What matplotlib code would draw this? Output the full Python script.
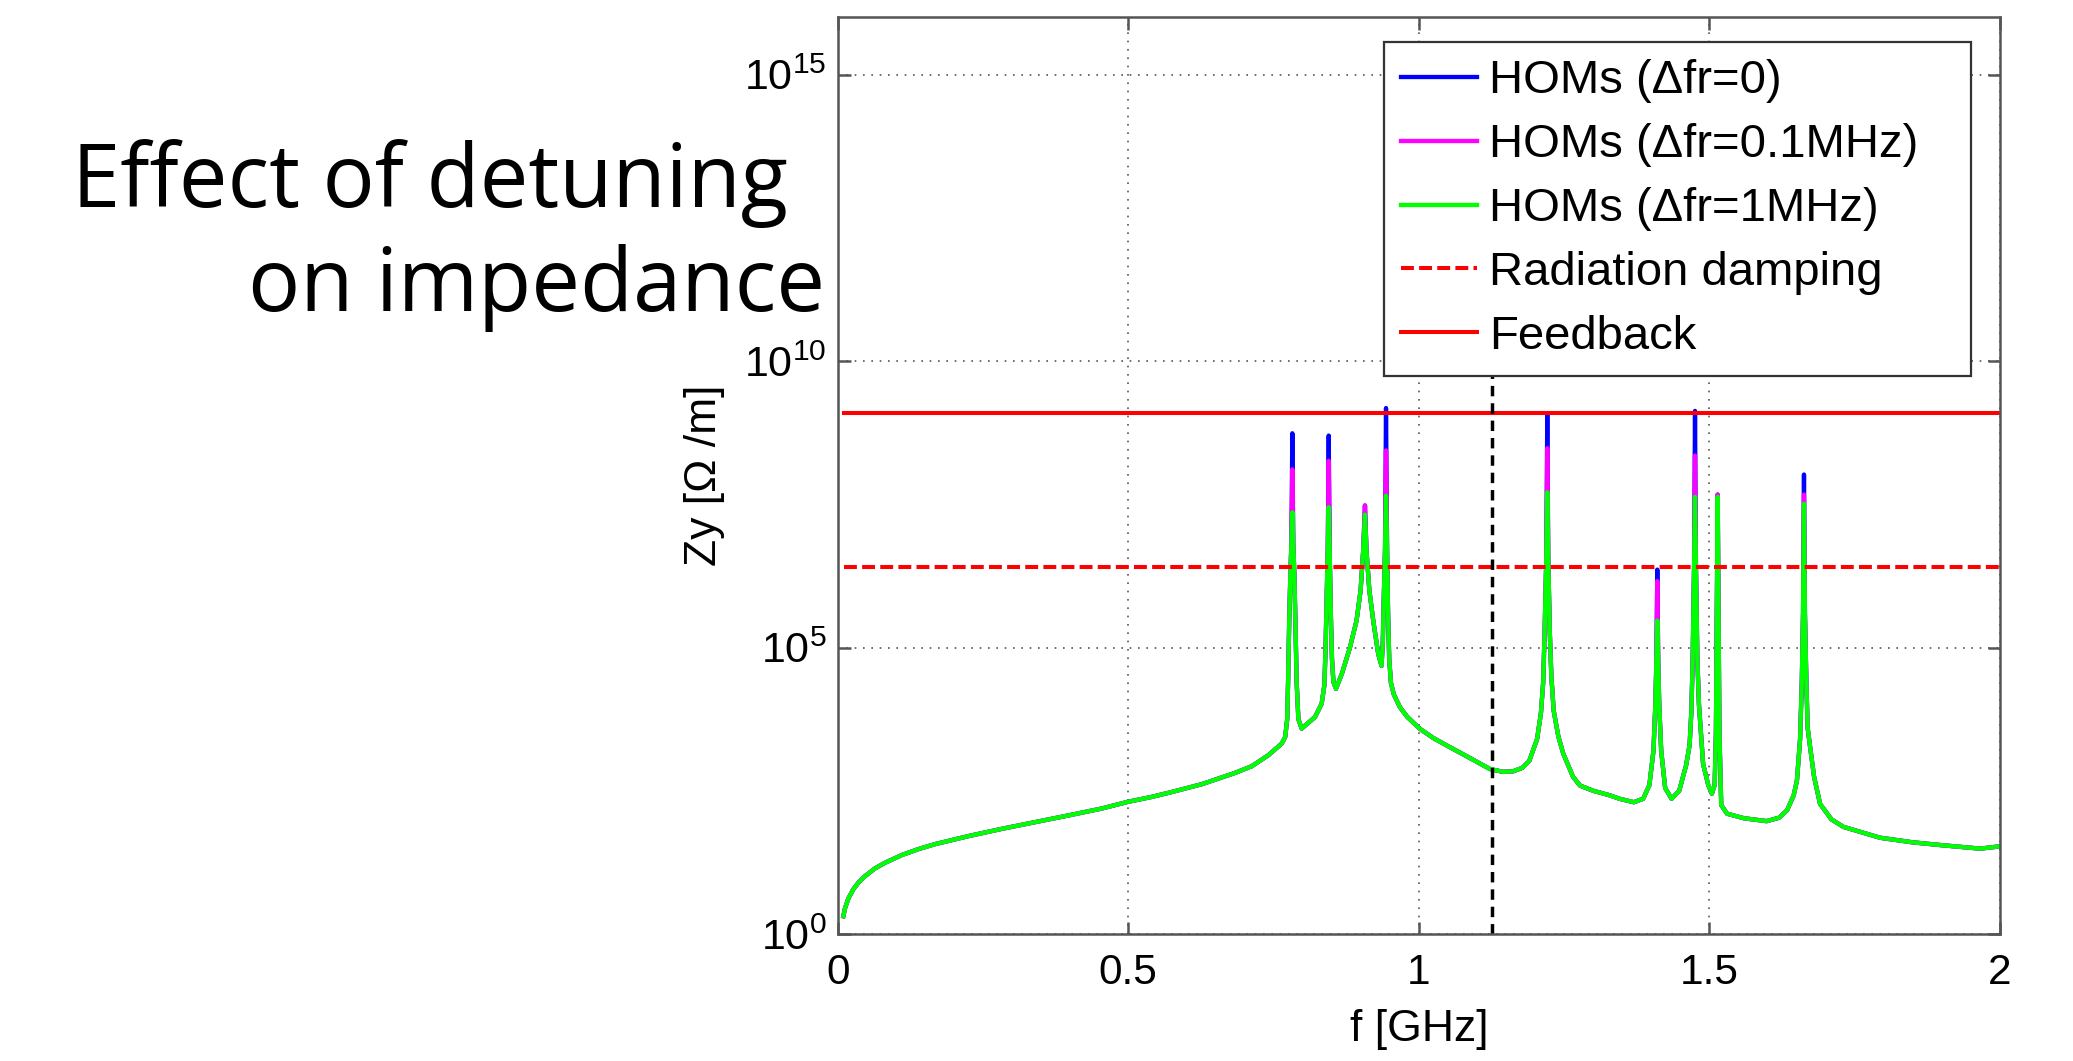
import numpy as np
import matplotlib
matplotlib.use("Agg")
import matplotlib.pyplot as plt
from matplotlib.ticker import FixedLocator, NullLocator, FixedFormatter

# ---------------- data (f in GHz, impedance as log10(Zy [Ohm/m])) ----------------
# smooth background + resonance shoulders, common to all three detuning cases
base_f = [
    0.0097, 0.0126, 0.0183, 0.0269, 0.0355, 0.0470, 0.0642, 0.0814, 0.1101, 0.1387,
    0.1674, 0.2247, 0.2822, 0.3395, 0.3968, 0.4543, 0.4990, 0.5403, 0.5689, 0.6263,
    0.6836, 0.7124, 0.7410, 0.7640, 0.7700, 0.7735,
    0.7752, 0.7770, 0.7790, 0.7807, 0.7839, 0.7857, 0.7877, 0.7897, 0.7927, 0.7984,
    0.8213, 0.8328, 0.8375,
    0.8395, 0.8413, 0.8433, 0.8465, 0.8485, 0.8505, 0.8530, 0.8574, 0.8678, 0.8814,
    0.8928, 0.8998, 0.9043, 0.9098, 0.9148, 0.9215, 0.9301, 0.9358, 0.9380, 0.9398,
    0.9418, 0.9453, 0.9470, 0.9490, 0.9520, 0.9570, 0.9674, 0.9800, 1.0019, 1.0250,
    1.0535, 1.0900, 1.1222, 1.1450, 1.1623, 1.1780, 1.1900, 1.2034, 1.2100, 1.2140,
    1.2165, 1.2194, 1.2226, 1.2252, 1.2280, 1.2320, 1.2400, 1.2484, 1.2655, 1.2775,
    1.3000, 1.3286, 1.3456, 1.3700, 1.3860, 1.3967, 1.4037, 1.4070, 1.4088,
    1.4118, 1.4136, 1.4170, 1.4238, 1.4348, 1.4480, 1.4600, 1.4659, 1.4690, 1.4712,
    1.4736, 1.4768, 1.4792, 1.4820, 1.4891, 1.4980, 1.5042, 1.5090, 1.5112, 1.5130,
    1.5154, 1.5172, 1.5203, 1.5303, 1.5594, 1.5985, 1.6200, 1.6336, 1.6450, 1.6506,
    1.6560, 1.6590, 1.6611, 1.6643, 1.6668, 1.6690, 1.6733, 1.6800, 1.6904, 1.7100,
    1.7305, 1.7937, 1.8497, 1.8998, 1.9659, 2.0000]
base_exp = [
    0.31, 0.45, 0.62, 0.78, 0.895, 1.01, 1.145, 1.243, 1.377, 1.481,
    1.568, 1.708, 1.835, 1.952, 2.069, 2.190, 2.306, 2.393, 2.463, 2.614,
    2.811, 2.928, 3.120, 3.323, 3.44, 3.75,
    4.5, 5.5, 6.3, 6.8, 6.8, 6.3, 5.4, 4.4, 3.75, 3.585,
    3.787, 4.02, 4.35,
    5.0, 5.8, 6.7, 6.7, 5.6, 4.8, 4.4, 4.28, 4.55, 5.0,
    5.47, 6.0, 6.7, 6.7, 6.0, 5.47, 4.89, 4.68, 5.1, 5.9,
    6.7, 6.7, 5.6, 4.8, 4.38, 4.18, 3.96, 3.79, 3.58, 3.42,
    3.26, 3.06, 2.88, 2.83, 2.84, 2.90, 3.02, 3.4, 3.85, 4.4,
    5.3, 6.6, 6.6, 5.3, 4.5, 3.9, 3.45, 3.15, 2.74, 2.59,
    2.50, 2.42, 2.36, 2.30, 2.36, 2.60, 3.2, 4.0, 4.8,
    4.8, 4.0, 3.2, 2.55, 2.36, 2.5, 2.95, 3.30, 3.9, 4.8,
    6.4, 6.4, 4.8, 4.0, 2.97, 2.6, 2.45, 2.6, 3.5, 6.0,
    6.0, 3.5, 2.25, 2.10, 2.02, 1.97, 2.03, 2.16, 2.42, 2.68,
    3.4, 4.4, 5.6, 5.6, 4.4, 3.6, 3.26, 2.75, 2.27, 2.00,
    1.87, 1.68, 1.60, 1.55, 1.49, 1.53]

# HOM resonance peak tops for each detuning case
peak_f = [0.7823, 0.8449, 0.9073, 0.9435, 1.2210, 1.4103, 1.4752, 1.5142, 1.6627]
peak_exp_df0 = [8.74, 8.70, 7.48, 9.18, 9.06, 6.36, 9.13, 7.67, 8.02]    # dfr = 0
peak_exp_df01 = [8.11, 8.26, 7.48, 8.44, 8.48, 6.16, 8.35, 7.67, 7.67]   # dfr = 0.1 MHz
peak_exp_df1 = [7.36, 7.45, 7.32, 7.65, 7.71, 5.47, 7.63, 7.63, 7.51]    # dfr = 1 MHz

radiation_damping = 2.5e6
feedback = 1.25e9
line_f_range = [0.01, 2.0]
marker_f = 1.1254
marker_z_range = [1.0, 5.6e9]

labels = ["HOMs (\u0394fr=0)", "HOMs (\u0394fr=0.1MHz)", "HOMs (\u0394fr=1MHz)",
          "Radiation damping", "Feedback"]
x_ticks = [0, 0.5, 1, 1.5, 2]
x_ticklabels = ["0", "0.5", "1", "1.5", "2"]
y_ticks = [1e0, 1e5, 1e10, 1e15]
y_ticklabels = [r"$\mathregular{10^{0}}$", r"$\mathregular{10^{5}}$",
                r"$\mathregular{10^{10}}$", r"$\mathregular{10^{15}}$"]

assert len(base_f) == len(base_exp)


def series(peak_exp):
    f = np.array(base_f + peak_f)
    z = 10.0 ** np.array(base_exp + peak_exp)
    order = np.argsort(f, kind="stable")
    return f[order], z[order]


# ---------------- style ----------------
plt.rcParams["font.family"] = ["Liberation Sans", "DejaVu Sans"]
plt.rcParams["mathtext.fontset"] = "custom"
plt.rcParams["mathtext.rm"] = "Liberation Sans"
plt.rcParams["mathtext.it"] = "Liberation Sans:italic"
plt.rcParams["mathtext.bf"] = "Liberation Sans:bold"

W, H = 2073, 1061
fig = plt.figure(figsize=(W / 100, H / 100), dpi=100)
ax_l, ax_b, ax_r, ax_t = 837.7, 934.0, 2000.0, 17.3
ax = fig.add_axes([ax_l / W, 1 - ax_b / H, (ax_r - ax_l) / W, (ax_b - ax_t) / H])

lw = 3.1
h_blue, = ax.plot(*series(peak_exp_df0), color="#0000ff", lw=lw)
h_mag, = ax.plot(*series(peak_exp_df01), color="#ff00ff", lw=lw)
h_green, = ax.plot(*series(peak_exp_df1), color="#00ff00", lw=lw)
h_rad, = ax.plot(line_f_range, [radiation_damping] * 2, color="#ff0000", lw=2.9,
                 dashes=(3.2, 1.3))
h_fb, = ax.plot(line_f_range, [feedback] * 2, color="#ff0000", lw=2.9)
ax.plot([marker_f, marker_f], marker_z_range, color="black", lw=2.5, dashes=(3.0, 2.0))

ax.set_yscale("log")
ax.set_xlim(0, 2)
ax.set_ylim(1e0, 1e16)
ax.xaxis.set_major_locator(FixedLocator(x_ticks))
ax.xaxis.set_major_formatter(FixedFormatter(x_ticklabels))
ax.yaxis.set_major_locator(FixedLocator(y_ticks))
ax.yaxis.set_major_formatter(FixedFormatter(y_ticklabels))
ax.yaxis.set_minor_locator(NullLocator())
ax.xaxis.set_minor_locator(NullLocator())

ax.grid(True, which="major", linestyle=(0, (1, 4)), color="#555555", lw=1.2)
ax.set_axisbelow(True)
for s in ax.spines.values():
    s.set_color("#555555")
    s.set_linewidth(1.8)
ax.tick_params(axis="both", which="major", direction="in", length=9, width=1.8,
               color="#555555", top=True, right=True, labelsize=30.5, labelcolor="black")
ax.tick_params(axis="x", pad=14)
ax.tick_params(axis="y", pad=8, labelsize=31)

ax.set_xlabel("f [GHz]", fontsize=32, labelpad=11)
ax.set_ylabel("Zy [\u03a9 /m]", fontsize=32, labelpad=14)

# legend box: left 1384 px, right 1971 px, top 42 px (figure pixels)
leg_x0 = (1384 - ax_l) / (ax_r - ax_l)
leg_w = (1971 - 1384) / (ax_r - ax_l)
leg_top = (ax_b - 42) / (ax_b - ax_t)
leg = ax.legend([h_blue, h_mag, h_green, h_rad, h_fb], labels,
                loc="upper left", bbox_to_anchor=(leg_x0, leg_top, leg_w, 0.0),
                mode="expand", fontsize=34, frameon=True, fancybox=False, framealpha=1,
                edgecolor="#333333", handlelength=1.6, handletextpad=0.25,
                borderpad=0.37, labelspacing=0.42, borderaxespad=0)
leg.get_frame().set_linewidth(1.6)
leg.set_zorder(10)

# slide title
fig.text(429.7 / W, 1 - 207 / H, "Effect of detuning", fontsize=62.5,
         family=["Open Sans", "DejaVu Sans"], ha="center", va="baseline")
fig.text(536.8 / W, 1 - 311 / H, "on impedance", fontsize=62.5,
         family=["Open Sans", "DejaVu Sans"], ha="center", va="baseline")

fig.savefig("out.png", dpi=100, facecolor="white")
